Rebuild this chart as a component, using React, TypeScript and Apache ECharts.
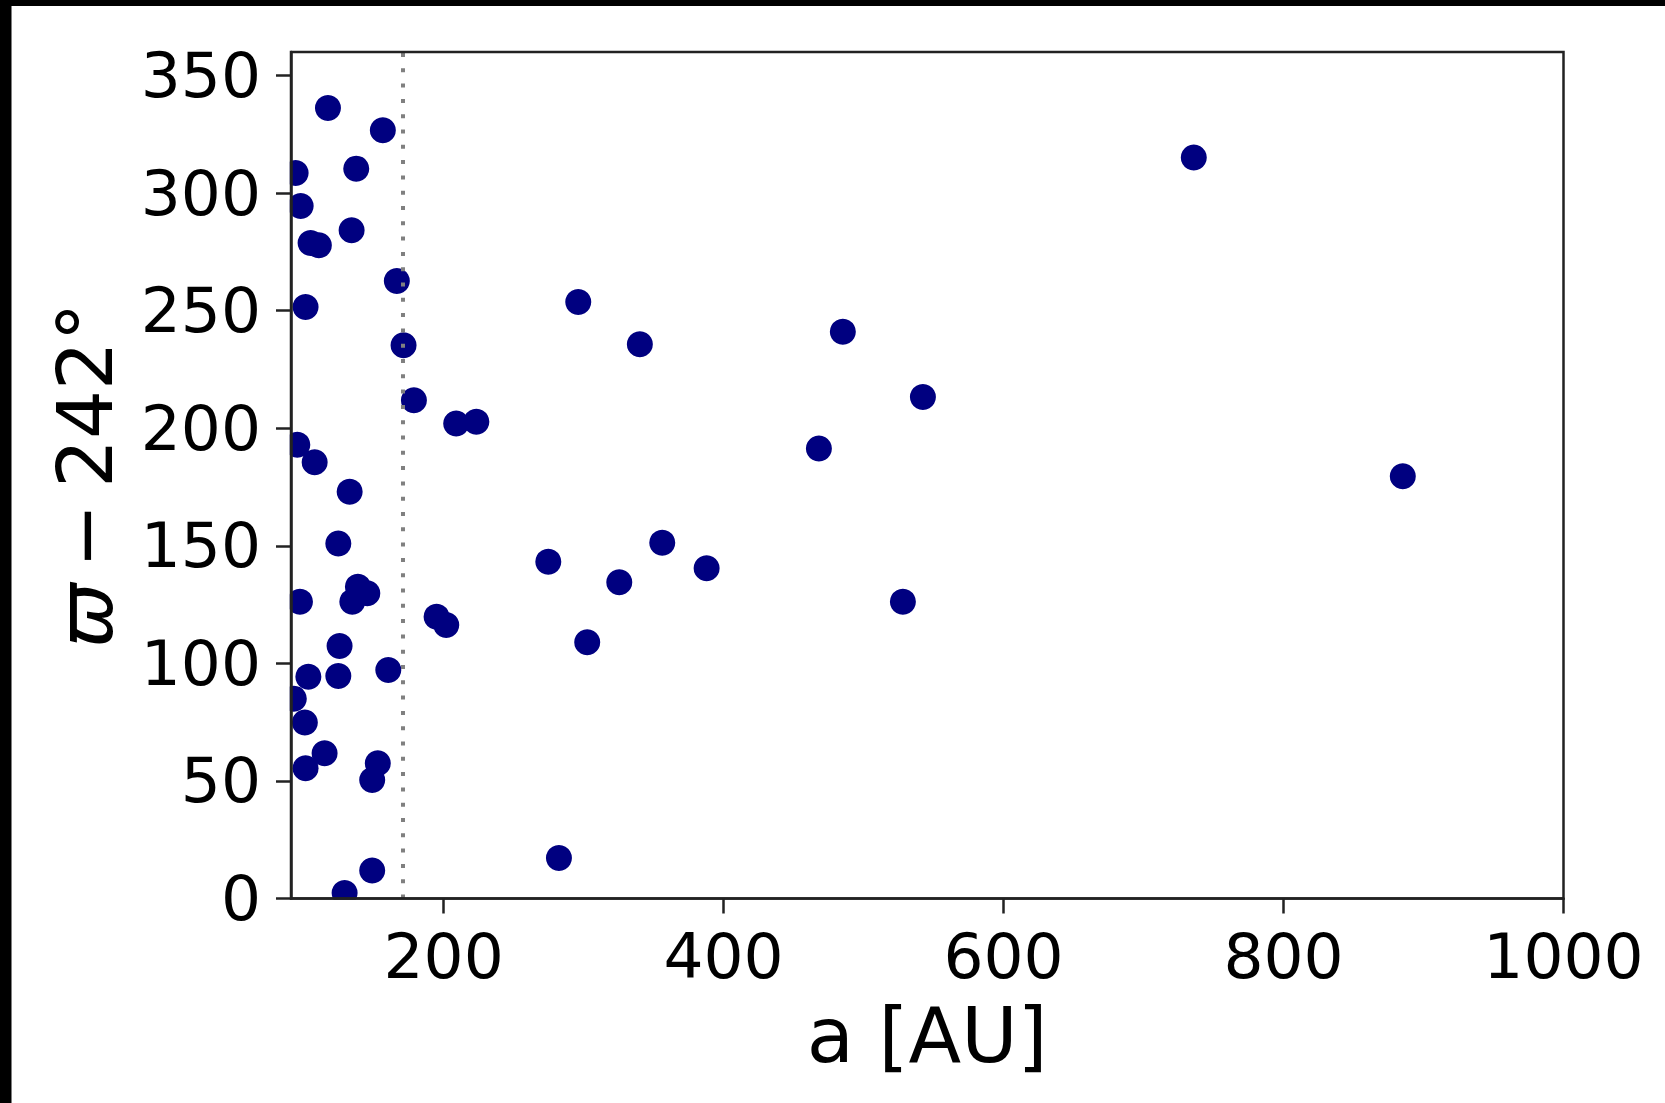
import React, { useEffect, useRef } from "react";
import * as echarts from "echarts";

// semi-major axis a [AU]
const aValues = [
  117.4, 156.6, 94.3, 137.6, 97.9, 105.0, 110.9, 134.3, 166.6, 101.4,
  171.4, 178.8, 209.0, 223.4, 95.5, 107.9, 132.9, 124.8, 138.8, 145.5,
  134.8, 97.4, 195.0, 201.9, 125.7, 160.5, 103.4, 124.8, 93.0, 100.9,
  115.0, 101.4, 153.0, 149.0, 149.0, 129.3,
  274.8, 282.4, 296.2, 302.6, 325.5, 340.2, 356.2, 387.9, 468.1, 485.2,
  528.1, 542.4, 735.9, 885.2,
];
// varpi - 242 deg
const varpiValues = [
  336.2, 326.7, 308.5, 310.4, 294.5, 278.8, 277.8, 284.2, 262.6, 251.6,
  235.3, 211.9, 202.0, 202.8, 193.0, 185.5, 173.0, 151.0, 132.6, 129.8,
  126.2, 126.2, 119.8, 116.3, 107.4, 97.2, 94.3, 94.6, 85.0, 74.8,
  61.8, 55.4, 57.5, 50.4, 11.9, 2.3,
  143.2, 17.2, 253.7, 109.0, 134.5, 235.7, 151.3, 140.4, 191.4, 241.0,
  126.2, 213.3, 315.1, 179.6,
];
const cutoffA = 171;
const xTicks = [200, 400, 600, 800, 1000];
const yTicks = [0, 50, 100, 150, 200, 250, 300, 350];
const xRange = [91, 1000];
const yRange = [0, 360];

const FONT = "DejaVu Sans";
const AXIS_COLOR = "#222";

export default function App() {
  const ref = useRef<HTMLDivElement>(null);
  useEffect(() => {
    if (!ref.current) return;
    const chart = echarts.init(ref.current, null, { renderer: "svg" });
    const points = aValues.map((a, i) => [a, varpiValues[i]]);
    const W = 1665;
    const H = 1103;
    const gl = 291, gr = 1563.5, gt = 52, gb = 898.5;
    chart.setOption({
      animation: false,
      backgroundColor: "#fff",
      grid: {
        left: gl,
        right: W - gr,
        top: gt,
        bottom: H - gb,
        show: true,
        borderColor: AXIS_COLOR,
        borderWidth: 2.5,
        backgroundColor: "transparent",
        z: 10,
      },
      xAxis: {
        type: "value",
        min: xRange[0],
        max: xRange[1],
        z: 10,
        splitLine: { show: false },
        axisLine: { show: true, onZero: false, lineStyle: { color: AXIS_COLOR, width: 2.5 } },
        axisTick: { show: true, length: 15, customValues: xTicks, lineStyle: { color: AXIS_COLOR, width: 2.5 } },
        axisLabel: {
          customValues: xTicks,
          formatter: (v: number) => String(v),
          fontSize: 63,
          fontFamily: FONT,
          color: "#000",
          margin: 26,
        },
        name: "a [AU]",
        nameLocation: "middle",
        nameGap: 98,
        nameTextStyle: { fontSize: 77, fontFamily: FONT, color: "#000" },
      },
      yAxis: {
        type: "value",
        min: yRange[0],
        max: yRange[1],
        z: 10,
        splitLine: { show: false },
        axisLine: { show: true, onZero: false, lineStyle: { color: AXIS_COLOR, width: 2.5 } },
        axisTick: { show: true, length: 15, customValues: yTicks, lineStyle: { color: AXIS_COLOR, width: 2.5 } },
        axisLabel: {
          customValues: yTicks,
          formatter: (v: number) => String(v),
          fontSize: 63,
          fontFamily: FONT,
          color: "#000",
          margin: 30,
        },
        name: "{i|ϖ}{m|\u2009−\u2009}{n|242°}",
        nameLocation: "middle",
        nameRotate: 90,
        nameGap: 167,
        nameTextStyle: {
          fontSize: 77,
          fontFamily: FONT,
          color: "#000",
          rich: {
            i: { fontSize: 77, fontFamily: FONT, fontStyle: "italic", color: "#000" },
            m: { fontSize: 77, fontFamily: FONT, color: "#000" },
            n: { fontSize: 77, fontFamily: FONT, color: "#000" },
          },
        },
      },
      graphic: [
        { type: "rect", z: 3, shape: { x: 0, y: 0, width: gl - 1.2, height: H }, style: { fill: "#fff" } },
        { type: "rect", z: 3, shape: { x: 0, y: gb + 1.2, width: W, height: H - gb }, style: { fill: "#fff" } },
        { type: "rect", z: 3, shape: { x: 0, y: 0, width: W, height: gt - 1.2 }, style: { fill: "#fff" } },
        { type: "rect", z: 3, shape: { x: gr + 1.2, y: 0, width: W - gr, height: H }, style: { fill: "#fff" } },
        { type: "rect", z: 100, shape: { x: 0, y: 0, width: W, height: 6 }, style: { fill: "#000" } },
        { type: "rect", z: 100, shape: { x: 0, y: 0, width: 11.5, height: H }, style: { fill: "#000" } },
      ],
      series: [
        {
          type: "scatter",
          data: points,
          symbol: "circle",
          symbolSize: 26,
          itemStyle: { color: "#000080", opacity: 1 },
          z: 2,
        },
        {
          type: "line",
          data: [[cutoffA, yRange[0]], [cutoffA, yRange[1]]],
          showSymbol: false,
          symbol: "none",
          z: 2.5,
          lineStyle: { color: "#808080", width: 4, type: [4, 11.3] },
        },
      ],
    });
    return () => chart.dispose();
  }, []);
  return (
    <div
      ref={ref}
      style={{ position: "fixed", left: 0, top: 0, width: 1665, height: 1103 }}
    />
  );
}
